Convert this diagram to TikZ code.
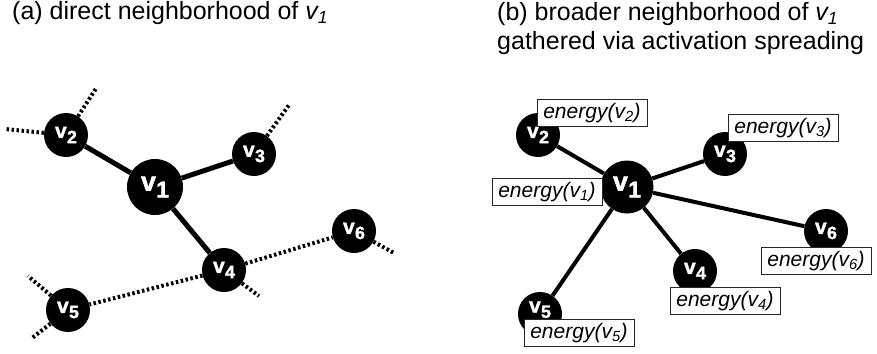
\documentclass[tikz,border=0pt]{standalone}
\usepackage{fontspec}
\usepackage{graphicx}
\setmainfont{Liberation Sans}
\newfontfamily\vfont[FakeBold=1.6]{Liberation Sans}
\newcommand\vsub[1]{v\kern0.3pt\raisebox{-0.25em}{\scalebox{0.85}{#1}}}
\newcommand\esub[1]{energy(v\textsubscript{#1})}
\begin{document}
\begin{tikzpicture}[x=1pt,y=-1pt,
  vert/.style={circle,fill=black,inner sep=0pt,text=white,minimum size=44pt,
    font=\fontsize{21}{21}\vfont\bfseries},
  bigvert/.style={vert,minimum size=56pt,font=\fontsize{27}{27}\vfont\bfseries},
  rbigvert/.style={vert,minimum size=53pt,font=\fontsize{27}{27}\vfont\bfseries},
  solidedge/.style={line width=5pt},
  dotedge/.style={line width=4pt,dash pattern=on 2.5pt off 2.5pt},
  thinedge/.style={line width=4pt},
  enbox/.style={draw=black!85,line width=0.8pt,fill=white,minimum width=110pt,
    minimum height=27pt,inner sep=0pt,font=\fontsize{21}{21}\selectfont\itshape},
  ttl/.style={font=\fontsize{25}{25}\selectfont,anchor=base west,inner sep=0pt}]
\useasboundingbox (0,0) rectangle (877,353);
% titles
\node[ttl] (ta) at (12,20) {(a) direct neighborhood of \textit{v\textsubscript{1}}};
\node[ttl] (tb1) at (497,21) {(b) broader neighborhood of \textit{v\textsubscript{1}}};
\node[ttl] (tb2) at (497,49) {gathered via activation spreading};
% ---------- left panel
\node[bigvert] (a1) at (155,187) {\vsub{1}};
\node[vert] (a2) at (66,135) {\vsub{2}};
\node[vert] (a3) at (254,154) {\vsub{3}};
\node[vert] (a4) at (224,270) {\vsub{4}};
\node[vert] (a5) at (68,310) {\vsub{5}};
\node[vert] (a6) at (354,231) {\vsub{6}};
\coordinate (f2l) at (5,129);
\coordinate (f2u) at (97,87);
\coordinate (f3u) at (289,105);
\coordinate (f4d) at (259,296);
\coordinate (f6r) at (394,253);
\coordinate (f5u) at (28,276);
\coordinate (f5d) at (32,338);
\draw[solidedge] (a1) -- (a2);
\draw[solidedge] (a1) -- (a3);
\draw[solidedge] (a1) -- (a4);
\draw[dotedge] (a4) -- (a5);
\draw[dotedge] (a4) -- (a6);
\draw[dotedge] (a2) -- (f2l);
\draw[dotedge] (a2) -- (f2u);
\draw[dotedge] (a3) -- (f3u);
\draw[dotedge] (a4) -- (f4d);
\draw[dotedge] (a6) -- (f6r);
\draw[dotedge] (a5) -- (f5u);
\draw[dotedge] (a5) -- (f5d);
% ---------- right panel
\node[rbigvert] (b1) at (627,187) {\vsub{1}};
\node[vert] (b2) at (538,135) {\vsub{2}};
\node[vert] (b3) at (725,154) {\vsub{3}};
\node[vert] (b4) at (695,271) {\vsub{4}};
\node[vert] (b5) at (540,314) {\raisebox{14pt}{\vsub{5}}};
\node[vert] (b6) at (826,231) {\vsub{6}};
\draw[thinedge] (b1) -- (b2);
\draw[thinedge] (b1) -- (b3);
\draw[thinedge] (b1) -- (b4);
\draw[thinedge] (b1) -- (b5);
\draw[thinedge] (b1) -- (b6);
\node[enbox] (e2) at (592,113) {\esub{2}};
\node[enbox] (e1) at (547,192) {\esub{1}};
\node[enbox] (e3) at (783,128) {\esub{3}};
\node[enbox] (e6) at (816,261) {\esub{6}};
\node[enbox] (e4) at (725,301) {\esub{4}};
\node[enbox] (e5) at (579,333) {\esub{5}};
\end{tikzpicture}
\end{document}
